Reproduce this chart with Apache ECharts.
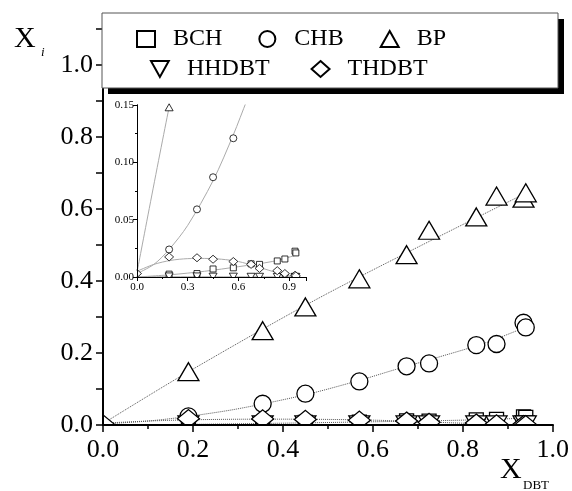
<!DOCTYPE html>
<html>
<head>
<meta charset="utf-8">
<script src="https://cdn.jsdelivr.net/npm/echarts@6/dist/echarts.min.js"></script>
<style>
  html, body { margin: 0; padding: 0; background: #fff; }
  #chart { width: 572px; height: 491px; }
</style>
</head>
<body>
<div id="chart"></div>
<script>
// measured points (x = X_DBT), null = no point
var xDbt  = [0, 0.19, 0.355, 0.45, 0.57, 0.675, 0.725, 0.83, 0.875, 0.935, 0.94];
var bch   = [null, 0.0025, 0.003, 0.007, 0.008, 0.0115, 0.011, 0.014, 0.0157, 0.0225, 0.021];
var chb   = [null, 0.024, 0.059, 0.087, 0.121, 0.163, 0.171, 0.222, 0.225, 0.284, 0.271];
var bp    = [null, 0.148, 0.262, 0.328, 0.406, 0.473, 0.541, 0.578, 0.636, 0.630, 0.645];
var hhdbt = [null, 0.0005, 0.0005, 0.0003, 0.0003, 0.0002, 0.0002, 0.0001, 0.0001, 0.0001, 0.0001];
var thdbt = [0.003, 0.0175, 0.0168, 0.0155, 0.0135, 0.011, 0.0075, 0.0055, 0.003, 0.0015, 0.001];

// fitted curves
var bchFit   = [[0, 0], [0.2, 0.002], [0.4, 0.005], [0.6, 0.009], [0.8, 0.0135], [0.94, 0.019]];
var chbFit   = [[0, 0.003], [0.1, 0.011], [0.19, 0.024], [0.3, 0.045], [0.45, 0.084], [0.57, 0.124], [0.65, 0.154], [0.75, 0.19], [0.85, 0.228], [0.94, 0.272]];
var bpFit    = [[0, 0.004], [0.19, 0.148], [0.5, 0.366], [0.94, 0.644]];
var hhdbtFit = [[0, 0.0003], [0.94, 0.0001]];
var thdbtFit = [[0, 0.005], [0.1, 0.011], [0.2, 0.0145], [0.3, 0.016], [0.4, 0.0162], [0.5, 0.0155], [0.6, 0.0135], [0.7, 0.0095], [0.8, 0.005], [0.9, 0.001], [0.94, 0.0]];

var names = ['BCH', 'CHB', 'BP', 'HHDBT', 'THDBT'];
var values = [bch, chb, bp, hhdbt, thdbt];
var fits = [bchFit, chbFit, bpFit, hhdbtFit, thdbtFit];

var downTri = 'path://M0,0L10,0L5,9Z';
var symbols = ['rect', 'circle', 'triangle', downTri, 'diamond'];
var bigSize = [14, 17, [21, 18], [21, 18], [22, 18]];
var smallSize = [6, 7, [8, 7], [8, 7], [9, 8]];

var serif = 'Liberation Serif';

function pts(ys) {
  var out = [];
  for (var i = 0; i < xDbt.length; i++) {
    if (ys[i] !== null) out.push([xDbt[i], ys[i]]);
  }
  return out;
}

var series = [];
for (var k = 0; k < names.length; k++) {
  // main plot
  series.push({
    name: names[k] + ' fit', type: 'line', xAxisIndex: 0, yAxisIndex: 0,
    data: fits[k], showSymbol: false, smooth: 0.3, silent: true, z: 1, clip: true,
    lineStyle: { color: '#555', width: 1, type: 'dotted' }
  });
  series.push({
    name: names[k], type: 'scatter', xAxisIndex: 0, yAxisIndex: 0, clip: true,
    data: pts(values[k]), symbol: symbols[k], symbolSize: bigSize[k], z: 3,
    itemStyle: { color: '#fff', borderColor: '#000', borderWidth: 1.3, opacity: 1 }
  });
  // inset
  series.push({
    name: names[k] + ' fit in', type: 'line', xAxisIndex: 2, yAxisIndex: 2,
    data: fits[k], showSymbol: false, smooth: 0.3, silent: true, z: 1, clip: true,
    lineStyle: { color: '#aaa', width: 1 }
  });
  series.push({
    name: names[k], type: 'scatter', xAxisIndex: 2, yAxisIndex: 2, clip: true,
    data: pts(values[k]), symbol: symbols[k], symbolSize: smallSize[k], z: 3,
    itemStyle: { color: '#fff', borderColor: '#000', borderWidth: 0.8, opacity: 1 }
  });
}

var black = { color: '#000' };

var chart = echarts.init(document.getElementById('chart'));
chart.setOption({
  animation: false,
  backgroundColor: '#fff',
  grid: [
    { left: 103, right: 19, top: 29, bottom: 66 },
    { left: 137, top: 105, width: 169, height: 172, show: true, backgroundColor: '#fff', borderWidth: 0 }
  ],
  xAxis: [
    {
      gridIndex: 0, type: 'value', min: 0, max: 1, interval: 0.2, z: 6,
      axisLine: { lineStyle: { color: '#000', width: 2 } },
      axisTick: { length: 7, lineStyle: { width: 1.5, color: '#000' } },
      minorTick: { show: true, splitNumber: 2, length: 4, lineStyle: { width: 1.5, color: '#000' } },
      axisLabel: { fontFamily: serif, fontSize: 26, color: '#000', margin: 12, formatter: function (v) { return v.toFixed(1); } },
      splitLine: { show: false }
    },
    {
      gridIndex: 0, type: 'value', position: 'top', min: 0, max: 1, interval: 0.2,
      axisLine: { lineStyle: { color: '#000', width: 2 } },
      axisTick: { show: false }, axisLabel: { show: false }, splitLine: { show: false }
    },
    {
      gridIndex: 1, type: 'value', min: 0, max: 1, interval: 0.3, z: 6,
      axisLine: { onZero: false, lineStyle: { color: '#000', width: 1 } },
      axisTick: { length: 4, lineStyle: black },
      minorTick: { show: true, splitNumber: 2, length: 2, lineStyle: black },
      axisLabel: { fontFamily: serif, fontSize: 11, color: '#000', margin: 5, showMaxLabel: false, formatter: function (v) { return v.toFixed(1); } },
      splitLine: { show: false }
    },
    {
      gridIndex: 1, type: 'value', position: 'top', min: 0, max: 1, interval: 0.3, z: 6,
      axisLine: { lineStyle: { color: '#000', width: 1 } },
      axisTick: { inside: true, length: 4, lineStyle: black },
      minorTick: { show: true, splitNumber: 2, length: 2, lineStyle: black },
      axisLabel: { show: false }, splitLine: { show: false }
    }
  ],
  yAxis: [
    {
      gridIndex: 0, type: 'value', min: 0, max: 1.1, interval: 0.2, z: 6,
      axisLine: { show: true, lineStyle: { color: '#000', width: 2 } },
      axisTick: { show: true, length: 7, lineStyle: { width: 1.5, color: '#000' } },
      minorTick: { show: true, splitNumber: 2, length: 4, lineStyle: { width: 1.5, color: '#000' } },
      axisLabel: { fontFamily: serif, fontSize: 26, color: '#000', margin: 10, showMaxLabel: false, formatter: function (v) { return v.toFixed(1); } },
      splitLine: { show: false }
    },
    {
      gridIndex: 0, type: 'value', position: 'right', min: 0, max: 1.1, interval: 0.1, z: 6,
      axisLine: { show: true, lineStyle: { color: '#000', width: 2 } },
      axisTick: { show: true, inside: true, length: 7, lineStyle: { width: 1.5, color: '#000' } },
      axisLabel: { show: false }, splitLine: { show: false }
    },
    {
      gridIndex: 1, type: 'value', min: 0, max: 0.15, interval: 0.05, z: 6,
      axisLine: { show: true, onZero: false, lineStyle: { color: '#000', width: 1 } },
      axisTick: { show: true, length: 4, lineStyle: black },
      minorTick: { show: true, splitNumber: 2, length: 2, lineStyle: black },
      axisLabel: { fontFamily: serif, fontSize: 11, color: '#000', margin: 3, formatter: function (v) { return v.toFixed(2); } },
      splitLine: { show: false }
    },
    {
      gridIndex: 1, type: 'value', position: 'right', min: 0, max: 0.15, interval: 0.05, z: 6,
      axisLine: { show: true, lineStyle: { color: '#000', width: 1 } },
      axisTick: { show: true, inside: true, length: 4, lineStyle: black },
      minorTick: { show: true, splitNumber: 2, length: 2, lineStyle: black },
      axisLabel: { show: false }, splitLine: { show: false }
    }
  ],
  legend: [
    {
      data: ['BCH', 'CHB', 'BP'], left: 131, top: 22, z: 20,
      itemWidth: 18, itemHeight: 16, itemGap: 36, selectedMode: false,
      textStyle: { fontFamily: serif, fontSize: 24, color: '#000', padding: [0, 0, 0, 13] }
    },
    {
      data: ['HHDBT', 'THDBT'], left: 145, top: 52, z: 20,
      itemWidth: 18, itemHeight: 16, itemGap: 41, selectedMode: false,
      textStyle: { fontFamily: serif, fontSize: 24, color: '#000', padding: [0, 0, 0, 13] }
    }
  ],
  graphic: [
    // white strips that cut the markers off at the frame, like the original plot
    { type: 'rect', z: 4, silent: true, shape: { x: 88, y: 426, width: 475, height: 11 }, style: { fill: '#fff' } },
    { type: 'rect', z: 4, silent: true, shape: { x: 88, y: 400, width: 14, height: 30 }, style: { fill: '#fff' } },
    { type: 'rect', z: 4, silent: true, shape: { x: 131, y: 277.5, width: 182, height: 4 }, style: { fill: '#fff' } },
    { type: 'rect', z: 4, silent: true, shape: { x: 131, y: 265, width: 5.5, height: 14 }, style: { fill: '#fff' } },
    // legend box with its hard black shadow
    { type: 'rect', z: 10, shape: { x: 108, y: 19, width: 456, height: 75 }, style: { fill: '#000' } },
    { type: 'rect', z: 11, shape: { x: 102, y: 13, width: 456, height: 75 }, style: { fill: '#fff', stroke: '#555', lineWidth: 1 } },
    // axis titles
    { type: 'text', left: 14, top: 24, style: { text: 'X', font: '30px "Liberation Serif"', fill: '#000' } },
    { type: 'text', left: 41, top: 46, style: { text: 'i', font: 'italic 13px "Liberation Serif"', fill: '#000' } },
    { type: 'text', left: 500, top: 455, style: { text: 'X', font: '30px "Liberation Serif"', fill: '#000' } },
    { type: 'text', left: 523, top: 479, style: { text: 'DBT', font: '13px "Liberation Serif"', fill: '#000' } }
  ],
  series: series
});
</script>
</body>
</html>
